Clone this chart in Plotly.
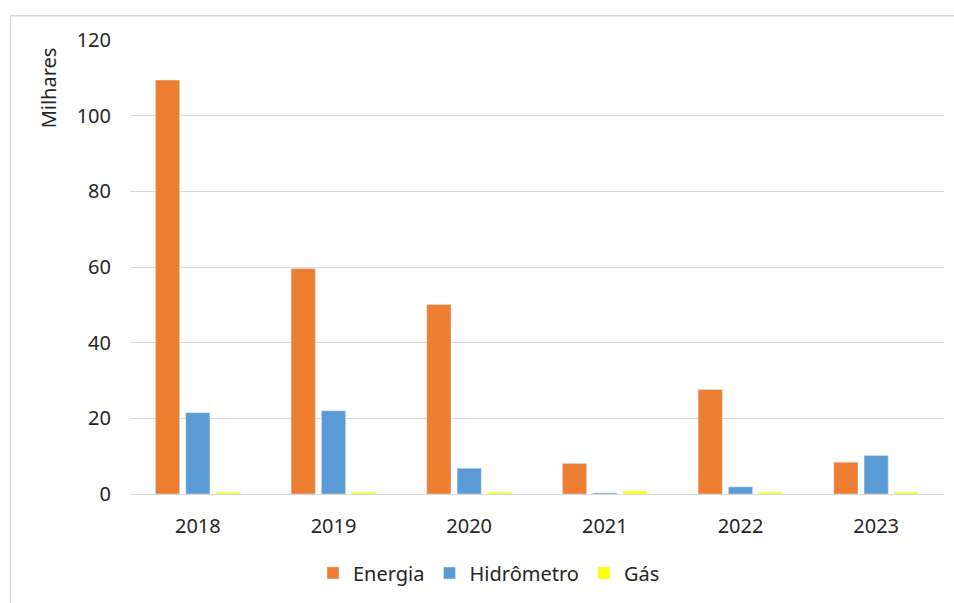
import plotly.graph_objects as go

anos = ["2018", "2019", "2020", "2021", "2022", "2023"]
energia = [109.4, 59.6, 50.1, 8.1, 27.6, 8.4]
hidrometro = [21.5, 22.0, 6.8, 0.3, 1.9, 10.2]
gas = [0.5, 0.5, 0.5, 0.8, 0.5, 0.5]
y_ticks = [0, 20, 40, 60, 80, 100, 120]

FONT = "Noto Sans"
TXT = "#262626"
FS = 20

fig = go.Figure()
fig.add_trace(go.Bar(name="Energia", x=anos, y=energia, marker_color="#ED7D31"))
fig.add_trace(go.Bar(name="Hidrômetro", x=anos, y=hidrometro, marker_color="#5B9BD5"))
fig.add_trace(go.Bar(name="Gás", x=anos, y=gas, marker_color="#FFFF00"))

L, R, T, B = 130, 10, 40, 103
W, H = 954, 603
pw = W - L - R
ph = H - T - B

def px2x(p):
    return (p - L) / pw

def px2y(p):
    return (H - B - p) / ph

fig.update_layout(
    width=W, height=H,
    margin=dict(l=L, r=R, t=T, b=B),
    paper_bgcolor="white", plot_bgcolor="white",
    barmode="group", bargap=0.33, bargroupgap=0.2,
    font=dict(family=FONT, size=FS, color=TXT),
    showlegend=True,
    legend=dict(orientation="h", x=px2x(489), xanchor="center",
                y=px2y(580), yanchor="middle",
                font=dict(family=FONT, size=FS, color=TXT),
                itemclick=False, tracegroupgap=0),
    xaxis=dict(showgrid=False, showline=True, linecolor="#d9d9d9", linewidth=1,
               ticks="", ticklabelstandoff=14,
               tickfont=dict(family=FONT, size=FS, color=TXT)),
    yaxis=dict(range=[0, 120], tickvals=y_ticks, showgrid=True,
               gridcolor="#d9d9d9", gridwidth=1, zeroline=False,
               showline=False, ticks="", ticklabelstandoff=18,
               tickfont=dict(family=FONT, size=FS, color=TXT)),
    shapes=[dict(type="rect", xref="paper", yref="paper",
                 x0=px2x(10.5), x1=px2x(970), y0=px2y(620), y1=px2y(15.5),
                 line=dict(color="#d9d9d9", width=1.5), layer="below")],
    annotations=[dict(text="Milhares", textangle=-90, xref="paper", yref="paper",
                      x=px2x(48), y=px2y(89), showarrow=False,
                      xanchor="center", yanchor="middle",
                      font=dict(family=FONT, size=FS, color=TXT))],
)

fig.write_html("out.html",
               config={"displayModeBar": False},
               post_script="document.body.style.margin='0px';document.body.style.overflow='hidden';")
